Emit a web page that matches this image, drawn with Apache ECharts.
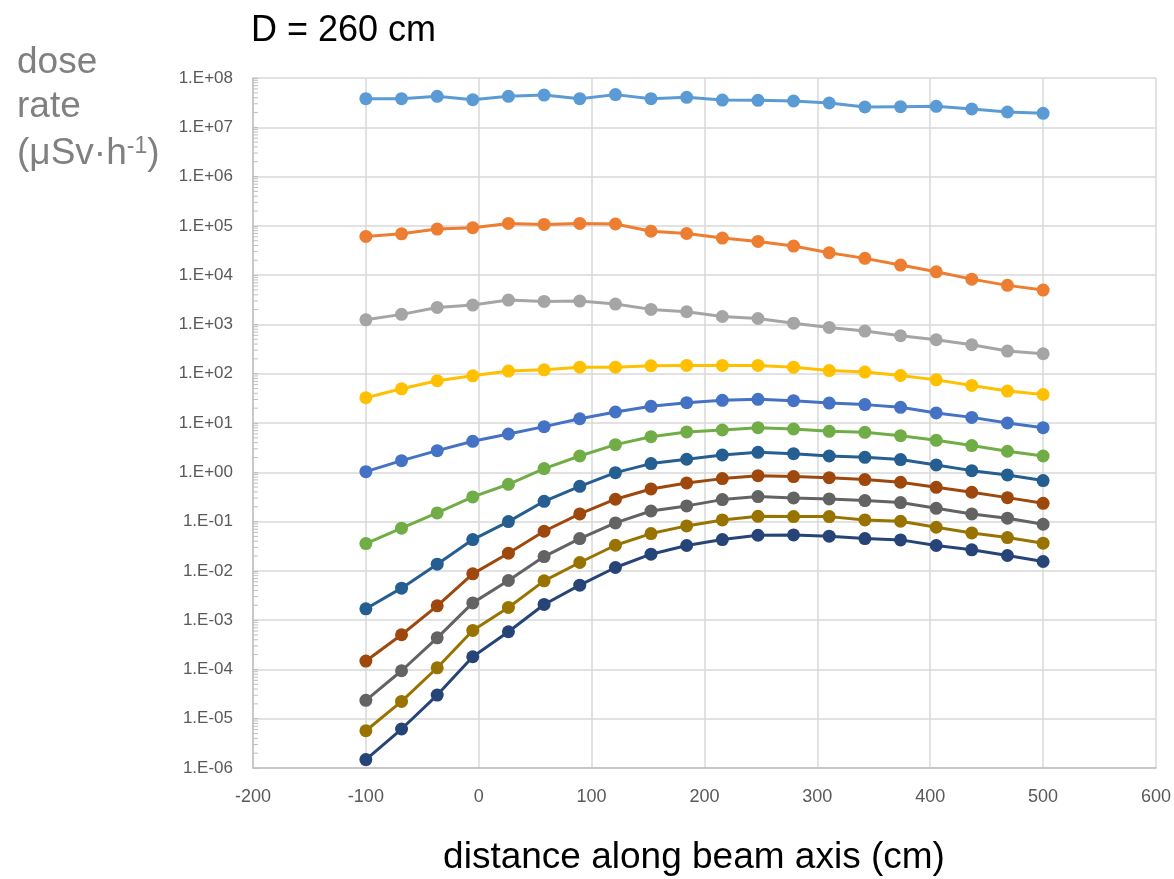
<!DOCTYPE html>
<html>
<head>
<meta charset="utf-8">
<title>D = 260 cm</title>
<script src="https://cdn.jsdelivr.net/npm/echarts@6/dist/echarts.min.js"></script>
<style>
  html, body { margin: 0; padding: 0; background: #ffffff; }
  #chart { width: 1174px; height: 879px; }
</style>
</head>
<body>
<div id="chart"></div>
<script>
// Positions along the beam axis (cm)
const xPos = [-100, -68.4, -36.8, -5.3, 26.3, 57.9, 89.5, 121.1, 152.6, 184.2,
              215.8, 247.4, 278.9, 310.5, 342.1, 373.7, 405.3, 436.8, 468.4, 500];

// Dose rate curves (µSv/h), one per line
const s1 = [3.8e7, 3.8e7, 4.25e7, 3.63e7, 4.25e7, 4.5e7, 3.8e7, 4.6e7, 3.8e7, 4.05e7,
            3.57e7, 3.53e7, 3.41e7, 3.11e7, 2.58e7, 2.62e7, 2.66e7, 2.35e7, 2.04e7, 1.92e7];
const s2 = [6.1e4, 6.9e4, 8.6e4, 9.2e4, 1.12e5, 1.07e5, 1.12e5, 1.09e5, 7.8e4, 7.0e4,
            5.65e4, 4.84e4, 3.89e4, 2.85e4, 2.19e4, 1.6e4, 1.17e4, 8.3e3, 6.2e3, 4.98e3];
const s3 = [1240, 1600, 2210, 2470, 3120, 2930, 2980, 2590, 2020, 1810,
            1450, 1320, 1060, 869, 733, 589, 489, 387, 288, 254];
const s4 = [32.5, 49.4, 71.9, 90.8, 113, 120, 136, 136, 145, 147,
            147, 147, 136, 116, 108, 92, 75, 57.8, 44.4, 37.9];
const s5 = [1.03, 1.72, 2.75, 4.25, 5.98, 8.43, 12.2, 16.7, 21.8, 25.8,
            28.8, 30.2, 28.4, 25.4, 23.6, 20.8, 16.0, 13.0, 10.0, 8.04];
const s6 = [0.0358, 0.0733, 0.150, 0.316, 0.571, 1.19, 2.14, 3.64, 5.28, 6.58,
            7.21, 8.04, 7.56, 6.78, 6.47, 5.54, 4.46, 3.48, 2.67, 2.14];
const s7 = [0.0017, 0.00446, 0.01365, 0.0431, 0.1, 0.258, 0.52, 0.984, 1.50, 1.84,
            2.24, 2.54, 2.39, 2.14, 2.01, 1.81, 1.41, 1.08, 0.883, 0.678];
const s8 = [1.48e-4, 5.05e-4, 1.95e-3, 8.69e-3, 0.0228, 0.0637, 0.143, 0.284, 0.459, 0.608,
            0.744, 0.855, 0.817, 0.779, 0.71, 0.627, 0.496, 0.394, 0.306, 0.235];
const s9 = [2.36e-5, 9.4e-5, 4.38e-4, 2.24e-3, 6.37e-3, 0.0195, 0.0452, 0.094, 0.164, 0.208,
            0.279, 0.321, 0.302, 0.288, 0.267, 0.243, 0.186, 0.143, 0.117, 0.0883];
const s10 = [5.7e-6, 2.24e-5, 1.08e-4, 6.18e-4, 1.81e-3, 6.27e-3, 0.01476, 0.0331, 0.0571, 0.0817,
             0.108, 0.128, 0.126, 0.126, 0.108, 0.1016, 0.0767, 0.0589, 0.0474, 0.0364];
const s11 = [1.48e-6, 6.18e-6, 3.02e-5, 1.81e-4, 5.81e-4, 2.08e-3, 5.12e-3, 0.0117, 0.0218, 0.0327,
             0.0431, 0.0528, 0.0537, 0.0505, 0.0452, 0.0425, 0.0327, 0.0267, 0.0205, 0.0155];

const curves = [s1, s2, s3, s4, s5, s6, s7, s8, s9, s10, s11];
const colors = ['#5B9BD5', '#ED7D31', '#A5A5A5', '#FFC000', '#4472C4', '#70AD47',
                '#255E91', '#9E480E', '#636363', '#997300', '#264478'];

// Y tick labels, from 1e-6 up to 1e8
const yTickLabels = ['1.E-06', '1.E-05', '1.E-04', '1.E-03', '1.E-02', '1.E-01', '1.E+00',
                     '1.E+01', '1.E+02', '1.E+03', '1.E+04', '1.E+05', '1.E+06', '1.E+07', '1.E+08'];
const yMinExp = -6;
const xMin = -200, xMax = 600;

// Minor tick values (2..9 x 10^k) for the log axis
const minorTicks = [];
for (let k = yMinExp; k < yMinExp + yTickLabels.length - 1; k++) {
  for (let m = 2; m <= 9; m++) minorTicks.push([xMin, m * Math.pow(10, k)]);
}

const chart = echarts.init(document.getElementById('chart'), null, { renderer: 'canvas' });

const lineSeries = curves.map((vals, i) => ({
  type: 'line',
  data: vals.map((v, j) => [xPos[j], v]),
  symbol: 'circle',
  symbolSize: 13,
  showSymbol: true,
  lineStyle: { color: colors[i], width: 3 },
  itemStyle: { color: colors[i] },
  z: 3 + i
}));

const option = {
  animation: false,
  backgroundColor: '#ffffff',
  grid: { left: 253, right: 18, top: 78, bottom: 111, containLabel: false },
  xAxis: {
    type: 'value',
    min: xMin,
    max: xMax,
    interval: 100,
    axisLine: { show: true, onZero: false, lineStyle: { color: '#bfbfbf', width: 1.5 } },
    axisTick: { show: false },
    splitLine: { show: true, lineStyle: { color: '#d9d9d9', width: 1.5 } },
    axisLabel: {
      color: '#595959',
      fontSize: 18,
      fontFamily: 'Liberation Sans, Arial, sans-serif',
      margin: 20
    }
  },
  yAxis: {
    type: 'log',
    logBase: 10,
    min: 1e-6,
    max: 1e8,
    interval: 1,
    axisLine: { show: true, onZero: false, lineStyle: { color: '#bfbfbf', width: 1.5 } },
    axisTick: { show: true, inside: true, length: 5, lineStyle: { color: '#bfbfbf', width: 1 } },
    splitLine: { show: true, lineStyle: { color: '#d9d9d9', width: 1.5 } },
    axisLabel: {
      color: '#595959',
      fontSize: 17,
      fontFamily: 'Liberation Sans, Arial, sans-serif',
      margin: 20,
      formatter: function (v) {
        const e = Math.round(Math.log10(v));
        return yTickLabels[e - yMinExp] || '';
      }
    }
  },
  graphic: [
    {
      type: 'text', x: 251, y: 31,
      style: { text: 'D = 260 cm', fill: '#000000', font: '36px "Liberation Sans", Arial, sans-serif',
               verticalAlign: 'middle' }
    },
    {
      type: 'text', x: 17, y: 63,
      style: { text: 'dose', fill: '#808080', font: '37px "Liberation Sans", Arial, sans-serif',
               verticalAlign: 'middle' }
    },
    {
      type: 'text', x: 17, y: 107,
      style: { text: 'rate', fill: '#808080', font: '37px "Liberation Sans", Arial, sans-serif',
               verticalAlign: 'middle' }
    },
    {
      type: 'text', x: 17, y: 154,
      style: {
        text: '(μSv·h{sup|-1})',
        fill: '#808080',
        font: '37px "Liberation Sans", Arial, sans-serif',
        verticalAlign: 'middle',
        rich: {
          sup: { fill: '#808080', fontSize: 23, fontFamily: 'Liberation Sans', verticalAlign: 'top' }
        }
      }
    },
    {
      type: 'text', x: 694, y: 858,
      style: { text: 'distance along beam axis (cm)', fill: '#000000',
               font: '37px "Liberation Sans", Arial, sans-serif',
               align: 'center', verticalAlign: 'middle' }
    }
  ],
  series: [
    {
      type: 'custom',
      silent: true,
      clip: false,
      z: 1,
      data: minorTicks,
      renderItem: function (params, api) {
        const p = api.coord([api.value(0), api.value(1)]);
        return {
          type: 'line',
          shape: { x1: p[0], y1: p[1], x2: p[0] + 5, y2: p[1] },
          style: { stroke: '#bfbfbf', lineWidth: 1 }
        };
      }
    }
  ].concat(lineSeries)
};

chart.setOption(option);
</script>
</body>
</html>
